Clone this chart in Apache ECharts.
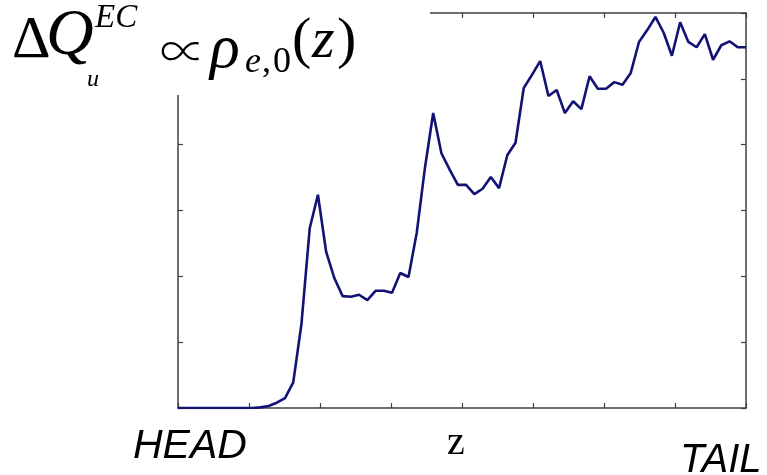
<!DOCTYPE html>
<html>
<head>
<meta charset="utf-8">
<script src="https://cdn.jsdelivr.net/npm/echarts@6/dist/echarts.min.js"></script>
<style>
html,body{margin:0;padding:0;background:#fff;}
#chart{width:767px;height:475px;}
</style>
</head>
<body>
<div id="chart"></div>
<script>
// sample index along z (HEAD -> TAIL)
const zIndex = [0,1,2,3,4,5,6,7,8,9,10,11,12,13,14,15,16,17,18,19,20,21,22,23,24,25,26,27,28,29,30,31,32,33,34,35,36,37,38,39,40,41,42,43,44,45,46,47,48,49,50,51,52,53,54,55,56,57,58,59,60,61,62,63,64,65,66,67,68,69];
// density values (arbitrary units)
const rho = [0,0,0,0,0,0,0,0,0,0,0.01,0.03,0.08,0.15,0.39,1.28,2.73,3.24,2.37,1.97,
  1.70,1.69,1.72,1.64,1.78,1.78,1.75,2.05,1.99,2.66,3.65,4.48,3.87,3.62,3.39,3.39,3.25,3.33,3.51,3.34,
  3.84,4.03,4.86,5.06,5.27,4.74,4.83,4.48,4.66,4.54,5.04,4.85,4.85,4.95,4.91,5.09,5.56,5.74,5.94,5.70,
  5.35,5.86,5.56,5.48,5.68,5.29,5.51,5.57,5.48,5.48];
const xLabels = ['HEAD','z','TAIL'];

const chart = echarts.init(document.getElementById('chart'), null, {renderer:'canvas'});
const axisCol = '#404040';
const xMax = zIndex[zIndex.length-1];
function xa(pos){return {type:'value',position:pos,min:0,max:xMax,interval:xMax/8,
  axisLine:{show:true,onZero:false,lineStyle:{color:axisCol,width:1.5}},
  axisTick:{show:true,inside:true,length:5,lineStyle:{color:axisCol,width:1.2}},
  axisLabel:{show:false},splitLine:{show:false}};}
function ya(pos){return {type:'value',position:pos,min:0,max:6,interval:1,
  axisLine:{show:true,onZero:false,lineStyle:{color:axisCol,width:1.5}},
  axisTick:{show:true,inside:true,length:5,lineStyle:{color:axisCol,width:1.2}},
  axisLabel:{show:false},splitLine:{show:false}};}

const serif = '"Liberation Serif","DejaVu Serif",serif';
const sans = '"Liberation Sans",Arial,sans-serif';
function t(text,x,y,size,italic,font,weight){return {type:'text',x:x,y:y,z:100,
  style:{text:text,fill:'#000',font:(italic?'italic ':'')+(weight?weight+' ':'')+size+'px '+(font||serif),textVerticalAlign:'middle',verticalAlign:'middle'}};}

chart.setOption({
  animation:false,
  grid:{left:178,top:13,width:568,height:395,containLabel:false},
  xAxis:[xa('bottom'),xa('top')],
  yAxis:[ya('left'),ya('right')],
  series:[{type:'line',data:zIndex.map((z,i)=>[z,rho[i]]),showSymbol:false,
    lineStyle:{color:'#121275',width:2.6},itemStyle:{color:'#121275'}}],
  graphic:[
    {type:'rect',shape:{x:0,y:0,width:430,height:95},style:{fill:'#fff'},z:90},
    t('\u0394',12,41,60,false),
    t('Q',46,37,66,true),
    t('EC',95,18,33,true),
    t('u',87,80,24,true),
    t('\u221D',160,51,46,false,'"Noto Sans CJK JP","DejaVu Serif",serif','300'),
    t('\u03C1',210,51,62,true),
    t('e',245,63,36,true),
    t(',',262,63,36,false),
    t('0',273,63,36,false),
    t('(',292,42,58,false),
    t('z',312,42,58,true),
    t(')',337,42,58,false),
    t(xLabels[0],133,447,41,true,sans),
    t(xLabels[1],447,443,40,false),
    t(xLabels[2],680,461,40,true,sans)
  ]
});
</script>
</body>
</html>
